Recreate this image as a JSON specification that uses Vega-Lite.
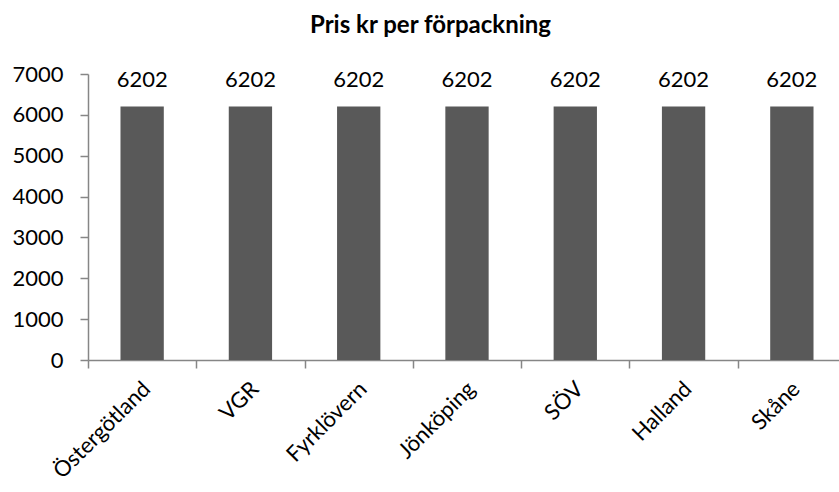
{
  "$schema": "https://vega.github.io/schema/vega-lite/v6.json",
  "autosize": {"type": "none"},
  "padding": {"left": 88, "top": 74, "right": 0, "bottom": 132},
  "width": 751,
  "height": 286,
  "background": "white",
  "title": {
    "text": "Pris kr per förpackning",
    "font": "Lato",
    "fontSize": 24,
    "fontWeight": "bold",
    "color": "#000000",
    "anchor": "middle",
    "baseline": "alphabetic",
    "offset": 6,
    "dx": -33
  },
  "data": {
    "values": [
      {"region": "Östergötland", "pris": 6202},
      {"region": "VGR", "pris": 6202},
      {"region": "Fyrklövern", "pris": 6202},
      {"region": "Jönköping", "pris": 6202},
      {"region": "SÖV", "pris": 6202},
      {"region": "Halland", "pris": 6202},
      {"region": "Skåne", "pris": 6202}
    ]
  },
  "config": {
    "view": {"stroke": null},
    "font": "Lato"
  },
  "encoding": {
    "x": {
      "field": "region",
      "type": "nominal",
      "sort": null,
      "title": null,
      "scale": {"range": [0, 758], "paddingInner": 0, "paddingOuter": 0},
      "axis": {
        "tickBand": "extent",
        "domainColor": "#868686",
        "domainWidth": 1.5,
        "tickColor": "#868686",
        "tickWidth": 1.5,
        "tickSize": 8,
        "labelAngle": -45,
        "labelAlign": "right",
        "labelBaseline": "middle",
        "labelFont": "Lato",
        "labelFontSize": 22,
        "labelColor": "#000000",
        "labelPadding": 17,
        "labelOffset": 4
      }
    },
    "y": {
      "field": "pris",
      "type": "quantitative",
      "title": null,
      "scale": {"domain": [0, 7000], "nice": false},
      "axis": {
        "values": [0, 1000, 2000, 3000, 4000, 5000, 6000, 7000],
        "format": "d",
        "grid": false,
        "domainColor": "#868686",
        "domainWidth": 1.5,
        "tickColor": "#868686",
        "tickWidth": 1.5,
        "tickSize": 8,
        "labelFont": "Lato",
        "labelFontSize": 22,
        "labelColor": "#000000",
        "labelPadding": 17,
        "labelFlush": false
      }
    }
  },
  "layer": [
    {
      "mark": {"type": "bar", "width": {"band": 0.4}, "color": "#595959"}
    },
    {
      "mark": {
        "type": "text",
        "baseline": "alphabetic",
        "dy": -20,
        "font": "Lato",
        "fontSize": 22,
        "color": "#000000"
      },
      "encoding": {"text": {"field": "pris", "type": "quantitative"}}
    }
  ]
}
